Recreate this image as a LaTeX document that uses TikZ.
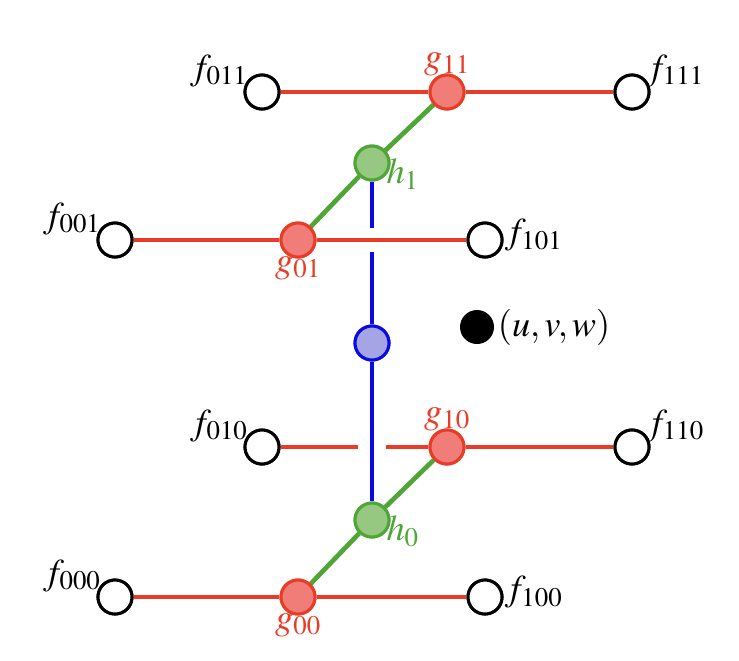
\documentclass[tikz,border=0pt]{standalone}
\usepackage{amsmath}
\usepackage{mathptmx}
\usetikzlibrary{positioning, calc}
\definecolor{gred}{RGB}{232,60,40}
\definecolor{gredfill}{RGB}{240,125,120}
\definecolor{hgreen}{RGB}{80,165,55}
\definecolor{hgreenfill}{RGB}{150,200,130}
\definecolor{mblue}{RGB}{10,10,230}
\definecolor{mbluefill}{RGB}{165,165,230}
\begin{document}
\begin{tikzpicture}[x=0.03cm, y=-0.03cm,
		fnode/.style={circle, draw=black, fill=white, line width=2.6pt, minimum size=1.02cm, inner sep=0pt},
		gnode/.style={circle, draw=gred, fill=gredfill, line width=2.6pt, minimum size=1.02cm, inner sep=0pt},
		hnode/.style={circle, draw=hgreen, fill=hgreenfill, line width=2.6pt, minimum size=1.02cm, inner sep=0pt},
		mnode/.style={circle, draw=mblue, fill=mbluefill, line width=2.6pt, minimum size=1.02cm, inner sep=0pt},
		redline/.style={gred, line width=4pt},
		greenline/.style={hgreen, line width=4pt},
		blueline/.style={mblue, line width=4pt},
		gap/.style={white, line width=13pt},
		lbl/.style={font=\fontsize{31}{35}\selectfont, inner sep=1pt}
	]
	\useasboundingbox (0,0) rectangle (739,660);

	% nodes
	\node[fnode] (f011) at (262,92) {};
	\node[gnode] (g11) at (447,92) {};
	\node[fnode] (f111) at (632,92) {};
	\node[hnode] (h1) at (372,163) {};
	\node[fnode] (f001) at (115,240) {};
	\node[gnode] (g01) at (298,240) {};
	\node[fnode] (f101) at (485,240) {};
	\node[mnode] (m) at (372,343) {};
	\node[fnode] (f010) at (262,447) {};
	\node[gnode] (g10) at (447,447) {};
	\node[fnode] (f110) at (632,447) {};
	\node[hnode] (h0) at (372,520) {};
	\node[fnode] (f000) at (115,597) {};
	\node[gnode] (g00) at (298,597) {};
	\node[fnode] (f100) at (485,597) {};
	\node[circle, fill=black, minimum size=1.02cm, inner sep=0pt] (p) at (477,327) {};

	% connectors
	\draw[blueline] (h1) -- (m);
	\draw[gap] (372,228) -- (372,252);
	\draw[redline] (f001) -- (g01);
	\draw[redline] (g01) -- (f101);
	\draw[redline] (f010) -- (g10);
	\draw[redline] (g10) -- (f110);
	\draw[gap] (358,447) -- (386,447);
	\draw[blueline] (m) -- (h0);
	\draw[redline] (f011) -- (g11);
	\draw[redline] (g11) -- (f111);
	\draw[redline] (f000) -- (g00);
	\draw[redline] (g00) -- (f100);
	\draw[greenline] (g01) -- (h1);
	\draw[greenline] (h1) -- (g11);
	\draw[greenline] (g00) -- (h0);
	\draw[greenline] (h0) -- (g10);
	% redraw nodes on top
	\foreach \n in {f011,f111,f001,f101,f010,f110,f000,f100}
		\node[fnode] at (\n) {};
	\foreach \n in {g11,g01,g10,g00}
		\node[gnode] at (\n) {};
	\node[hnode] at (h1) {};
	\node[hnode] at (h0) {};
	\node[mnode] at (m) {};

	% labels
	\node[lbl, above left=-8pt and 0pt of f011] (lf011) {$f_{011}$};
	\node[lbl, above right=-8pt and 0pt of f111] (lf111) {$f_{111}$};
	\node[lbl, text=gred, above=-3pt of g11] (lg11) {$g_{11}$};
	\node[lbl, text=hgreen, below right=-16pt and 0pt of h1] (lh1) {$h_1$};
	\node[lbl, above left=-8pt and 0pt of f001] (lf001) {$f_{001}$};
	\node[lbl, right=0pt of f101, yshift=4pt] (lf101) {$f_{101}$};
	\node[lbl, text=gred, below=-3pt of g01] (lg01) {$g_{01}$};
	\node[lbl, right=2pt of p] (lp) {$(u,v,w)$};
	\node[lbl, above left=-8pt and 0pt of f010] (lf010) {$f_{010}$};
	\node[lbl, above right=-8pt and 0pt of f110] (lf110) {$f_{110}$};
	\node[lbl, text=gred, above=-3pt of g10] (lg10) {$g_{10}$};
	\node[lbl, text=hgreen, below right=-16pt and 0pt of h0] (lh0) {$h_0$};
	\node[lbl, above left=-8pt and 0pt of f000] (lf000) {$f_{000}$};
	\node[lbl, right=0pt of f100, yshift=4pt] (lf100) {$f_{100}$};
	\node[lbl, text=gred, below=-3pt of g00] (lg00) {$g_{00}$};
\end{tikzpicture}
\end{document}
